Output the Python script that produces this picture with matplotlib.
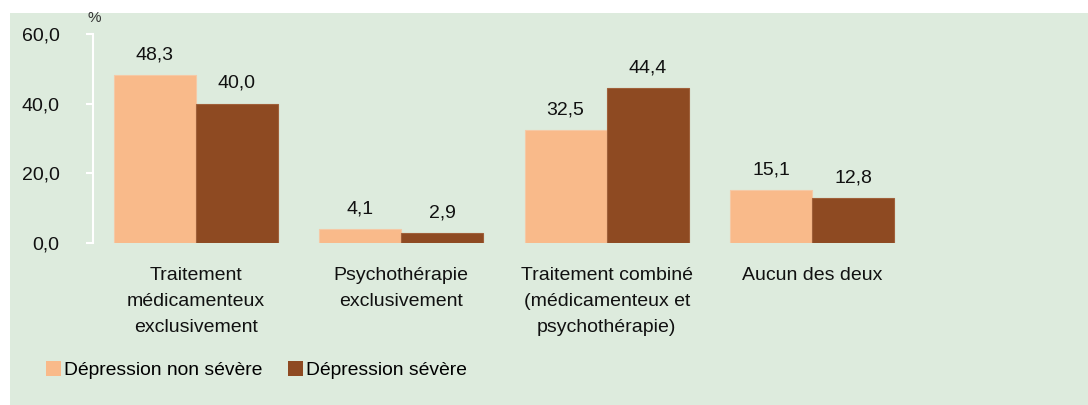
import matplotlib
matplotlib.use("Agg")
import matplotlib.pyplot as plt
from matplotlib.patches import Rectangle, Patch

plt.rcParams['font.family'] = ['Liberation Sans', 'DejaVu Sans']

categories = ["Traitement\nmédicamenteux\nexclusivement",
              "Psychothérapie\nexclusivement",
              "Traitement combiné\n(médicamenteux et\npsychothérapie)",
              "Aucun des deux"]
series_names = ["Dépression non sévère", "Dépression sévère"]
non_severe = [48.3, 4.1, 32.5, 15.1]
severe = [40.0, 2.9, 44.4, 12.8]
yticks = [0, 20, 40, 60]

colors = ["#F9BA8A", "#8E4A22"]
edge_colors = ["#F5C9A6", "#A0603A"]
bg = "#DDEBDD"

fig = plt.figure(figsize=(10.88, 4.05), dpi=100)
fig.patch.set_facecolor("white")
fig.patches.append(Rectangle((10 / 1088, 0), 1 - 10 / 1088, 1 - 13 / 405,
                             transform=fig.transFigure, facecolor=bg,
                             edgecolor="none", zorder=-10))

ax = fig.add_axes([93 / 1088, 1 - 243 / 405, (915 - 93) / 1088, (243 - 34) / 405])
ax.set_facecolor("none")

x = list(range(len(categories)))
w = 0.4
for vals, c, ec, off, name in [(non_severe, colors[0], edge_colors[0], -w / 2, series_names[0]),
                               (severe, colors[1], edge_colors[1], w / 2, series_names[1])]:
    bars = ax.bar([i + off for i in x], vals, width=w, color=c, edgecolor=ec,
                  linewidth=0.8, label=name)
    for b, v in zip(bars, vals):
        ax.text(b.get_x() + b.get_width() / 2, v + 4.5, f"{v:.1f}".replace(".", ","),
                ha="center", va="baseline", fontsize=14, color="#111111")

ax.set_xlim(-0.5, len(categories) - 0.5)
ax.set_ylim(0, 60)
ax.set_yticks(yticks)
ax.set_yticklabels([f"{t:.1f}".replace(".", ",") for t in yticks], fontsize=14)
ax.set_xticks(x)
ax.set_xticklabels(categories, fontsize=14, linespacing=1.72)

for s in ["top", "right", "bottom"]:
    ax.spines[s].set_visible(False)
ax.spines["left"].set_color("white")
ax.spines["left"].set_linewidth(1.5)
ax.tick_params(axis="y", color="white", width=1.5, length=5, pad=19, labelcolor="#111111")
ax.tick_params(axis="x", length=0, pad=17, labelcolor="#111111")

fig.text(87 / 1088, 1 - 18 / 405, "%", fontsize=11, ha="left", va="center", color="#333333")

handles = [Patch(facecolor=colors[0], edgecolor="none"),
           Patch(facecolor=colors[1], edgecolor="none")]
fig.legend(handles, series_names, loc="center left",
           bbox_to_anchor=(38 / 1088, 1 - 370 / 405), frameon=False,
           fontsize=13.9, handlelength=0.8, handleheight=0.8,
           handletextpad=0.15, columnspacing=1.3, ncol=2, borderaxespad=0)

fig.savefig("out.png", dpi=100)
